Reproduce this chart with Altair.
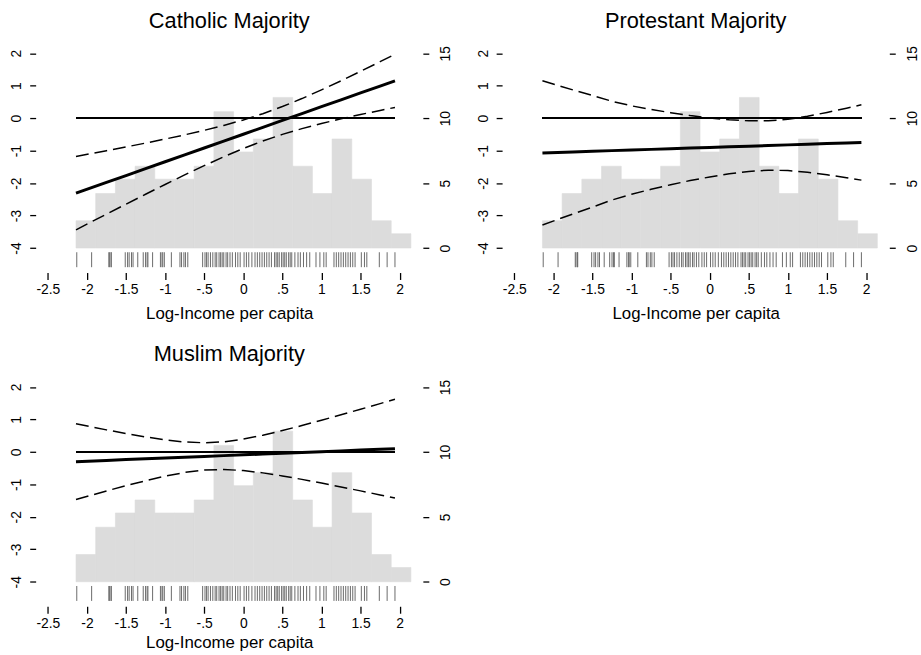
import json

import altair as alt
import pandas as pd

FONT = "Liberation Sans"

# ---- shared data -----------------------------------------------------------
# Histogram of log-income per capita (percent of countries per bin)
bin_lo = [-2.14, -1.888, -1.636, -1.384, -1.132, -0.88, -0.628, -0.376, -0.124,
          0.128, 0.38, 0.632, 0.884, 1.136, 1.388, 1.64, 1.892]
bin_hi = [-1.888, -1.636, -1.384, -1.132, -0.88, -0.628, -0.376, -0.124, 0.128,
          0.38, 0.632, 0.884, 1.136, 1.388, 1.64, 1.892, 2.144]
bin_pct = [2.1, 4.2, 5.3, 6.3, 5.3, 5.3, 6.3, 10.5, 7.4, 8.4, 11.6, 6.3, 4.2,
           8.4, 5.3, 2.1, 1.1]

# Individual observations (rug)
rug_x = [-2.13, -1.94,
         -1.72, -1.71, -1.69, -1.69,
         -1.51, -1.48, -1.46, -1.43, -1.41,
         -1.35, -1.28, -1.25, -1.23, -1.22, -1.16,
         -1.06, -1.04, -1.03, -1.01, -0.92,
         -0.81, -0.79, -0.76, -0.74, -0.71,
         -0.52, -0.49, -0.47, -0.45, -0.42, -0.39,
         -0.36, -0.34, -0.31, -0.29, -0.27, -0.25, -0.22, -0.20, -0.17, -0.14,
         -0.10, -0.07, -0.04, 0.01, 0.04, 0.07, 0.11,
         0.15, 0.18, 0.21, 0.24, 0.27, 0.30, 0.33, 0.36,
         0.40, 0.42, 0.44, 0.46, 0.49, 0.51, 0.53, 0.55, 0.58, 0.60, 0.62,
         0.66, 0.70, 0.73, 0.77, 0.81, 0.85,
         0.93, 0.98, 1.03, 1.06,
         1.16, 1.19, 1.22, 1.25, 1.28, 1.31, 1.34, 1.37,
         1.40, 1.43, 1.51, 1.55, 1.58,
         1.74, 1.84,
         1.94]

# Evaluation points of the marginal-effect curves
grid_x = [-2.14, -1.75, -1.5, -1.25, -1.0, -0.75, -0.5, -0.25, 0.0, 0.25, 0.5,
          0.75, 1.0, 1.25, 1.5, 1.75, 1.94]

catholic_fit = [-2.31, -1.979, -1.767, -1.555, -1.343, -1.131, -0.919, -0.707,
                -0.495, -0.283, -0.071, 0.141, 0.353, 0.565, 0.777, 0.989, 1.15]
catholic_hi = [-1.18, -1.003, -0.886, -0.767, -0.643, -0.514, -0.375, -0.224,
               -0.055, 0.138, 0.358, 0.604, 0.87, 1.15, 1.442, 1.74, 1.97]
catholic_lo = [-3.44, -2.955, -2.648, -2.343, -2.043, -1.748, -1.463, -1.19,
               -0.935, -0.704, -0.5, -0.322, -0.164, -0.02, 0.112, 0.238, 0.33]

protestant_fit = [-1.07, -1.04, -1.02, -1.0, -0.981, -0.961, -0.941, -0.921,
                  -0.902, -0.882, -0.862, -0.842, -0.823, -0.803, -0.783, -0.763,
                  -0.748]
protestant_hi = [1.15, 0.87, 0.7, 0.52, 0.379, 0.269, 0.169, 0.079, 0.008,
                 -0.052, -0.082, -0.082, -0.033, 0.057, 0.177, 0.307, 0.412]
protestant_lo = [-3.29, -2.95, -2.74, -2.52, -2.341, -2.191, -2.051, -1.921,
                 -1.812, -1.712, -1.642, -1.602, -1.613, -1.663, -1.743, -1.833,
                 -1.908]

muslim_fit = [-0.3, -0.262, -0.237, -0.213, -0.188, -0.164, -0.139, -0.115,
              -0.09, -0.066, -0.041, -0.017, 0.008, 0.032, 0.057, 0.081, 0.1]
muslim_hi = [0.865, 0.679, 0.567, 0.462, 0.372, 0.305, 0.281, 0.31, 0.394,
             0.514, 0.657, 0.812, 0.976, 1.143, 1.315, 1.487, 1.621]
muslim_lo = [-1.465, -1.203, -1.041, -0.888, -0.748, -0.633, -0.559, -0.54,
             -0.574, -0.646, -0.739, -0.846, -0.96, -1.079, -1.201, -1.325,
             -1.421]

# Axis ticks and their printed labels
x_ticks = [-2.5, -2, -1.5, -1, -0.5, 0, 0.5, 1, 1.5, 2]
x_tick_labels = ["-2.5", "-2", "-1.5", "-1", "-.5", "0", ".5", "1", "1.5", "2"]
y_ticks = [-4, -3, -2, -1, 0, 1, 2]
y_tick_labels = ["-4", "-3", "-2", "-1", "0", "1", "2"]
pct_ticks = [0, 5, 10, 15]
pct_tick_labels = ["0", "5", "10", "15"]

# ---- layout constants --------------------------------------------------------
W, H = 391, 228
X_DOMAIN = [-2.656, 2.297]
Y_DOMAIN = [-4.755, 2.2]
# right axis: 0 % sits at y = -4, 15 % at y = 2
PCT_DOMAIN = [(Y_DOMAIN[0] + 4) * 2.5, (Y_DOMAIN[1] + 4) * 2.5]
RUG_TOP, RUG_BOTTOM = -4.13, -4.59
X_MIN, X_MAX = grid_x[0], grid_x[-1]
BAR_GRAY = "#dcdcdc"


def label_expr(values, labels):
    return f"{json.dumps(labels)}[indexof({json.dumps(values)}, datum.value)]"


x_scale = alt.Scale(domain=X_DOMAIN, nice=False, zero=False)
y_scale = alt.Scale(domain=Y_DOMAIN, nice=False, zero=False)
pct_scale = alt.Scale(domain=PCT_DOMAIN, nice=False, zero=False)

common_axis = dict(domain=False, grid=False, tickColor="black", tickWidth=1.3,
                   labelColor="black", labelFont=FONT, labelFontSize=14)


def x_axis(title_pad):
    return alt.Axis(orient="bottom", values=x_ticks,
                    labelExpr=label_expr(x_ticks, x_tick_labels),
                    tickSize=7, labelPadding=3, labelFlush=False,
                    title="Log-Income per capita", titleFont=FONT,
                    titleFontSize=17, titleFontWeight="normal",
                    titleColor="black", titlePadding=title_pad, **common_axis)


y_axis = alt.Axis(orient="left", values=y_ticks,
                  labelExpr=label_expr(y_ticks, y_tick_labels),
                  tickSize=6, labelPadding=6, labelAngle=270,
                  labelAlign="center", labelBaseline="bottom", title=None,
                  **common_axis)

pct_axis = alt.Axis(orient="right", values=pct_ticks,
                    labelExpr=label_expr(pct_ticks, pct_tick_labels),
                    tickSize=6, labelPadding=10, labelAngle=270,
                    labelAlign="center", labelBaseline="top", title=None,
                    **common_axis)

hist_df = pd.DataFrame({"lo": bin_lo, "hi": bin_hi, "pct": bin_pct})
rug_df = pd.DataFrame({"x": rug_x})


def panel(title, fit, hi, lo, title_pad=9):
    curves = pd.DataFrame({"x": grid_x, "fit": fit, "hi": hi, "lo": lo})
    X = dict(scale=x_scale, axis=x_axis(title_pad))

    # histogram on the right-hand (percent) axis
    hist = alt.Chart(hist_df).mark_rect(
        color=BAR_GRAY, stroke=BAR_GRAY, strokeWidth=0.6
    ).encode(
        x=alt.X("lo:Q", **X),
        x2="hi:Q",
        y=alt.Y("pct:Q", scale=pct_scale, axis=pct_axis),
        y2=alt.datum(0),
    )

    rug = alt.Chart(rug_df).mark_rule(color="#6a6a6a", strokeWidth=1).encode(
        x=alt.X("x:Q", **X),
        y=alt.datum(RUG_TOP, scale=y_scale, axis=y_axis),
        y2=alt.datum(RUG_BOTTOM),
    )

    zero = alt.Chart(curves).mark_rule(color="black", strokeWidth=1.2).encode(
        x=alt.datum(X_MIN, **X),
        x2=alt.datum(X_MAX),
        y=alt.datum(0, scale=y_scale, axis=y_axis),
    )

    def curve(field, width, dash=None):
        kw = dict(color="black", strokeWidth=width)
        if dash:
            kw["strokeDash"] = dash
        return alt.Chart(curves).mark_line(**kw).encode(
            x=alt.X("x:Q", **X),
            y=alt.Y(f"{field}:Q", scale=y_scale, axis=y_axis),
        )

    effects = alt.layer(
        rug, zero,
        curve("hi", 1.5, [13, 6]),
        curve("lo", 1.5, [13, 6]),
        curve("fit", 3),
    )

    return alt.layer(hist, effects).resolve_scale(y="independent").properties(
        width=W, height=H,
        title=alt.TitleParams(text=title, font=FONT, fontSize=22,
                              fontWeight="normal", color="black",
                              anchor="middle", offset=13),
    )


p_cath = panel("Catholic Majority", catholic_fit, catholic_hi, catholic_lo)
p_prot = panel("Protestant Majority", protestant_fit, protestant_hi, protestant_lo)
p_musl = panel("Muslim Majority", muslim_fit, muslim_hi, muslim_lo, title_pad=5)

chart = alt.concat(
    p_cath, p_prot, p_musl, columns=2,
    spacing={"row": 109, "column": 80}, bounds="flush",
).properties(
    padding={"left": 10, "top": 6, "right": 2, "bottom": 1},
    background="white",
).configure_view(stroke=None)

chart.save("out.html", embed_options={"renderer": "svg", "actions": False})
